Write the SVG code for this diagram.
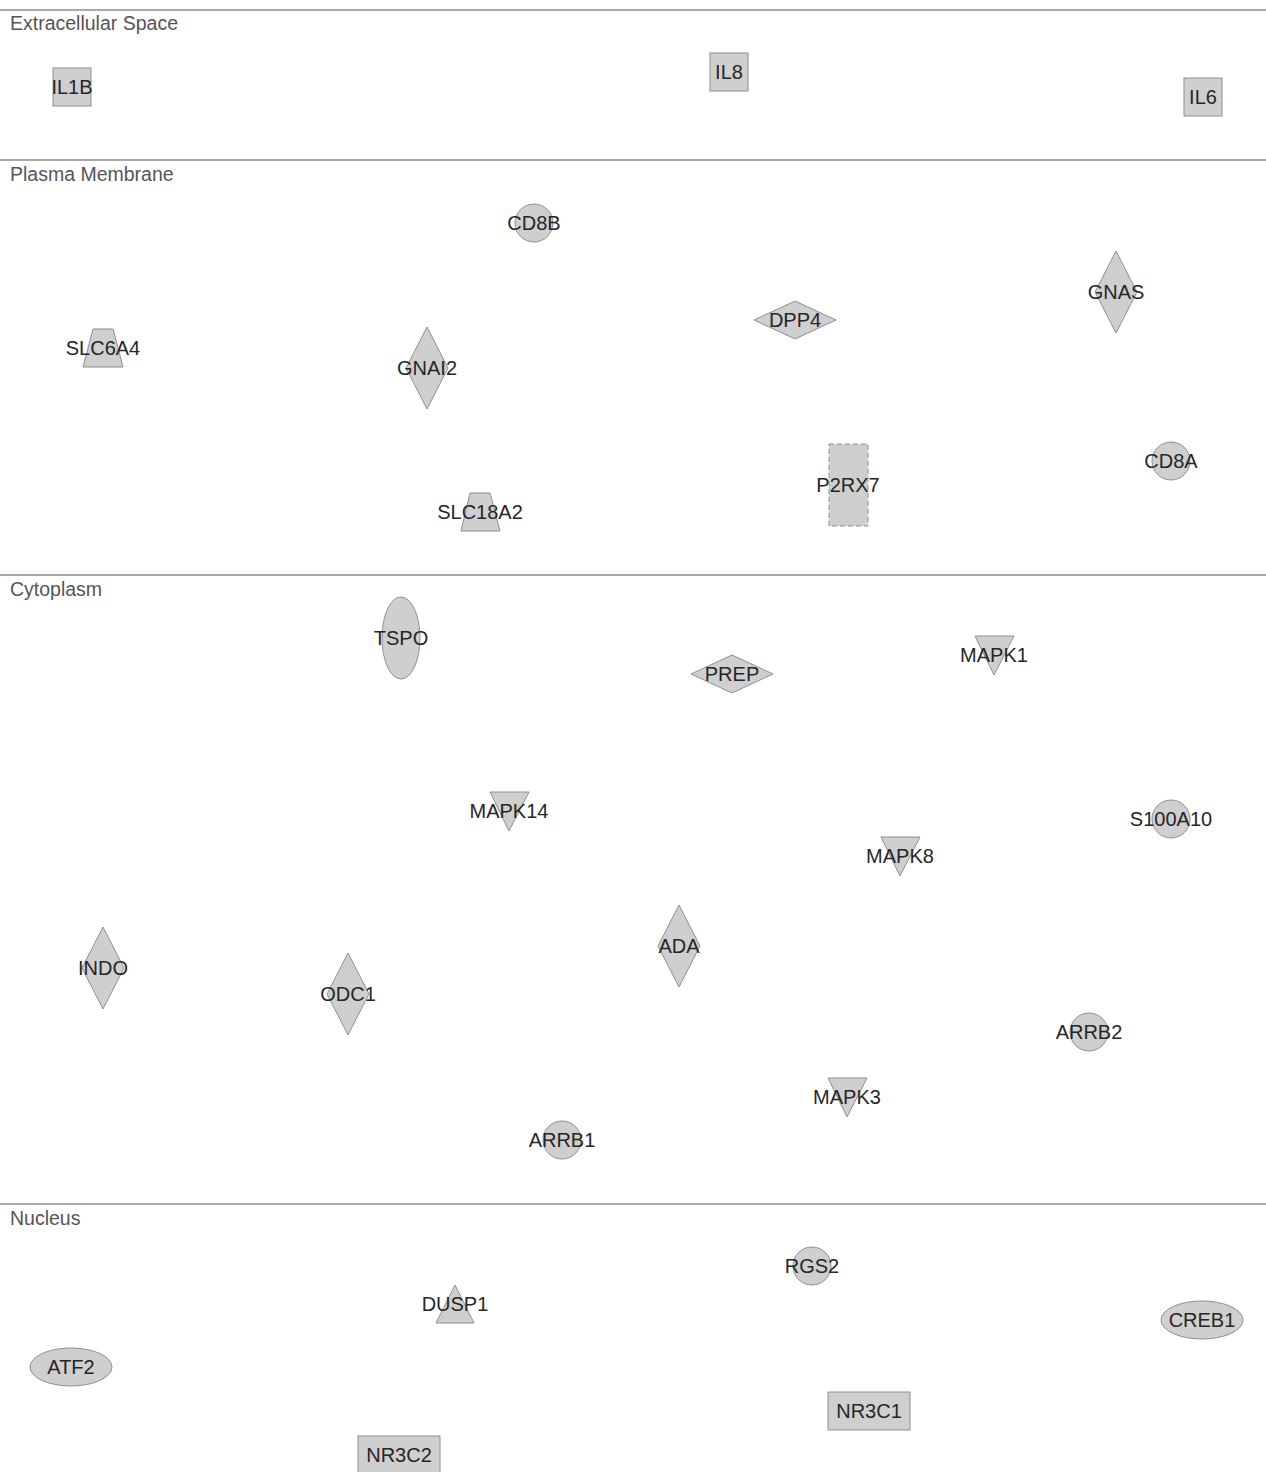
<svg xmlns="http://www.w3.org/2000/svg" width="1266" height="1472" viewBox="0 0 1266 1472">
<style>
.bg{fill:#ffffff}
.sep{stroke:#555555;stroke-width:1.2}
.lane{font-family:"Liberation Sans",Arial,sans-serif;font-size:19.5px;fill:#555555}
.n{fill:#cfcfcf;stroke:#8f8f8f;stroke-width:1}
.d{stroke-dasharray:5,3}
.t{font-family:"Liberation Sans",Arial,sans-serif;font-size:20px;fill:#262626;text-anchor:middle;dominant-baseline:central}
</style>
<rect class="bg" x="0" y="0" width="1266" height="1472"/>
<g id="lanes">
<line class="sep" x1="0" y1="10" x2="1266" y2="10"/>
<line class="sep" x1="0" y1="160" x2="1266" y2="160"/>
<line class="sep" x1="0" y1="575" x2="1266" y2="575"/>
<line class="sep" x1="0" y1="1204" x2="1266" y2="1204"/>
<text class="lane" x="10" y="30">Extracellular Space</text>
<text class="lane" x="10" y="181">Plasma Membrane</text>
<text class="lane" x="10" y="596">Cytoplasm</text>
<text class="lane" x="10" y="1225">Nucleus</text>
</g>
<g id="connectors"></g>
<g id="IL1B"><rect class="n" x="53" y="68" width="38" height="38"/><text class="t" x="72" y="87">IL1B</text></g>
<g id="IL8"><rect class="n" x="710" y="53" width="38" height="38"/><text class="t" x="729" y="72">IL8</text></g>
<g id="IL6"><rect class="n" x="1184" y="78" width="38" height="38"/><text class="t" x="1203" y="97">IL6</text></g>
<g id="CD8B"><circle class="n" cx="534" cy="223" r="19"/><text class="t" x="534" y="223">CD8B</text></g>
<g id="GNAS"><polygon class="n" points="1116,251 1137,292 1116,333 1095,292"/><text class="t" x="1116" y="292">GNAS</text></g>
<g id="DPP4"><polygon class="n" points="795,301 836,320 795,339 754,320"/><text class="t" x="795" y="320">DPP4</text></g>
<g id="SLC6A4"><polygon class="n" points="93,329 113,329 123,367 83,367"/><text class="t" x="103" y="348">SLC6A4</text></g>
<g id="GNAI2"><polygon class="n" points="427,327 448,368 427,409 406,368"/><text class="t" x="427" y="368">GNAI2</text></g>
<g id="CD8A"><circle class="n" cx="1171" cy="461" r="19"/><text class="t" x="1171" y="461">CD8A</text></g>
<g id="P2RX7"><rect class="n d" x="829" y="444" width="39" height="82"/><text class="t" x="848" y="485">P2RX7</text></g>
<g id="SLC18A2"><polygon class="n" points="470,493 490,493 500,531 461,531"/><text class="t" x="480" y="512">SLC18A2</text></g>
<g id="TSPO"><ellipse class="n" cx="401" cy="638" rx="19" ry="41"/><text class="t" x="401" y="638">TSPO</text></g>
<g id="PREP"><polygon class="n" points="732,655 773,674 732,693 691,674"/><text class="t" x="732" y="674">PREP</text></g>
<g id="MAPK1"><polygon class="n" points="975,636 1014,636 994,675"/><text class="t" x="994" y="655">MAPK1</text></g>
<g id="MAPK14"><polygon class="n" points="490,792 529,792 509,831"/><text class="t" x="509" y="811">MAPK14</text></g>
<g id="S100A10"><circle class="n" cx="1171" cy="819" r="19"/><text class="t" x="1171" y="819">S100A10</text></g>
<g id="MAPK8"><polygon class="n" points="881,837 920,837 900,876"/><text class="t" x="900" y="856">MAPK8</text></g>
<g id="INDO"><polygon class="n" points="103,927 124,968 103,1009 82,968"/><text class="t" x="103" y="968">INDO</text></g>
<g id="ODC1"><polygon class="n" points="348,953 369,994 348,1035 327,994"/><text class="t" x="348" y="994">ODC1</text></g>
<g id="ADA"><polygon class="n" points="679,905 700,946 679,987 658,946"/><text class="t" x="679" y="946">ADA</text></g>
<g id="ARRB2"><circle class="n" cx="1089" cy="1032" r="19"/><text class="t" x="1089" y="1032">ARRB2</text></g>
<g id="MAPK3"><polygon class="n" points="828,1078 867,1078 847,1117"/><text class="t" x="847" y="1097">MAPK3</text></g>
<g id="ARRB1"><circle class="n" cx="562" cy="1140" r="19"/><text class="t" x="562" y="1140">ARRB1</text></g>
<g id="RGS2"><circle class="n" cx="812" cy="1266" r="19"/><text class="t" x="812" y="1266">RGS2</text></g>
<g id="DUSP1"><polygon class="n" points="455,1285 474,1323 436,1323"/><text class="t" x="455" y="1304">DUSP1</text></g>
<g id="CREB1"><ellipse class="n" cx="1202" cy="1320" rx="41" ry="19"/><text class="t" x="1202" y="1320">CREB1</text></g>
<g id="ATF2"><ellipse class="n" cx="71" cy="1367" rx="41" ry="19"/><text class="t" x="71" y="1367">ATF2</text></g>
<g id="NR3C1"><rect class="n" x="828" y="1392" width="82" height="38"/><text class="t" x="869" y="1411">NR3C1</text></g>
<g id="NR3C2"><rect class="n" x="358" y="1436" width="82" height="38"/><text class="t" x="399" y="1455">NR3C2</text></g>
</svg>
